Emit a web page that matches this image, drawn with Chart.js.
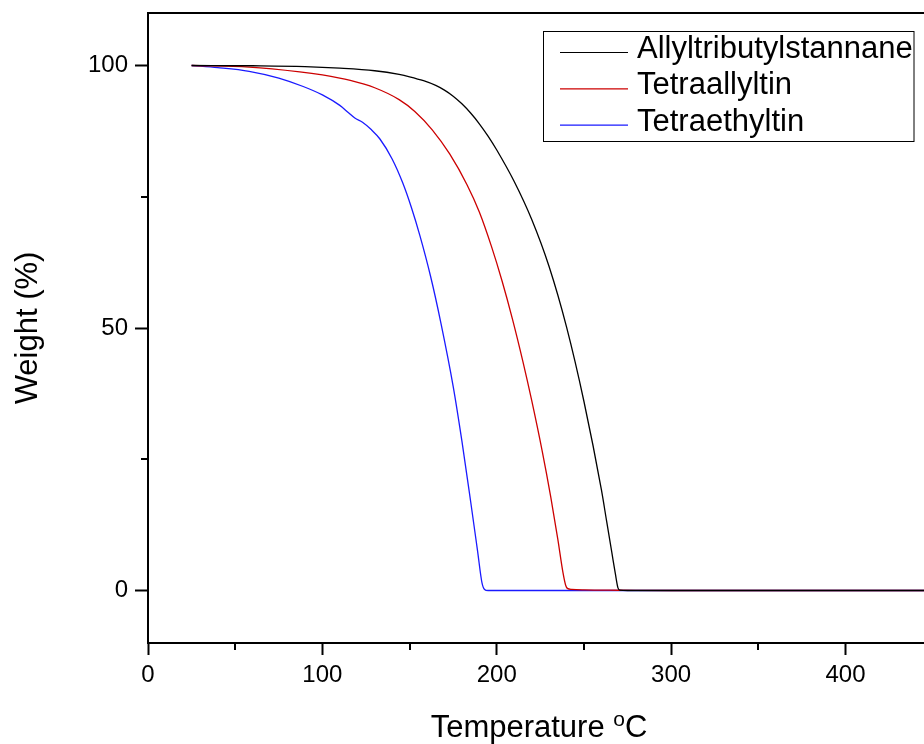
<!DOCTYPE html>
<html>
<head>
<meta charset="utf-8">
<script src="https://cdn.jsdelivr.net/npm/chart.js@4.4.1/dist/chart.umd.min.js"></script>
<style>
  html, body { margin: 0; padding: 0; background: #fff; }
</style>
</head>
<body>
<canvas id="tgaChart" width="924" height="744"></canvas>
<script>
const seriesNames = ["Allyltributylstannane", "Tetraallyltin", "Tetraethyltin"];
const seriesColors = ["#000000", "#cc0000", "#1a1aff"];

// Allyltributylstannane
const allylTemp = [25, 60, 90, 110, 130, 144, 150, 158, 165, 170, 175, 180, 185, 190, 195, 200, 210, 220, 230, 240, 250, 260, 263, 266, 268, 269.5, 270.5, 275, 450];
const allylWeight = [100, 99.95, 99.8, 99.5, 99, 98.3, 97.85, 97.1, 96.2, 95.3, 94.15, 92.7, 90.95, 88.9, 86.55, 83.9, 77.9, 70.7, 61.7, 50.2, 36, 19.2, 13.2, 7.2, 3.2, 0.5, 0.08, 0, 0];

// Tetraallyltin
const tetraallylTemp = [25, 58, 87, 100, 116, 130, 144, 153, 163, 173, 183, 190, 197, 203, 209, 215, 220, 226, 231, 235, 238, 239.5, 240.5, 243, 250, 270, 300, 450];
const tetraallylWeight = [100, 99.7, 98.8, 98.2, 97.16, 95.76, 93.5, 91.25, 87.75, 83.15, 77.25, 72.1, 65.5, 59, 51.7, 43.6, 36.25, 26.65, 17.75, 9.8, 3.35, 1, 0.4, 0.2, 0.1, 0.05, 0, 0];

// Tetraethyltin
const tetraethylTemp = [25, 40, 58, 75, 89, 100, 110, 115, 118.6, 123, 128, 133, 140, 146, 151, 156, 162, 168, 175, 180, 185, 189, 191.5, 193, 195, 300, 450];
const tetraethylWeight = [100, 99.6, 98.9, 97.6, 96, 94.4, 92.4, 91, 90, 89.2, 87.8, 86, 82.2, 77.7, 73, 67.5, 59.9, 50.9, 38.9, 28.5, 17, 7.5, 1.5, 0.2, 0, 0, 0];

const xTicks = [0, 50, 100, 150, 200, 250, 300, 350, 400];
const yTicks = [0, 25, 50, 75, 100];

const fontFamily = '"Liberation Sans", Arial, sans-serif';
Chart.defaults.font.family = fontFamily;
Chart.defaults.color = "#000";

function toPoints(xs, ys) {
  return xs.map((x, i) => ({ x: x, y: ys[i] }));
}

const isMajorX = (v) => v % 100 === 0;
const isMajorY = (v) => v % 50 === 0;

// short minor ticks, x title with superscript o, boxed legend
const extras = {
  id: "extras",
  afterDraw(chart) {
    const { ctx, chartArea } = chart;
    const xs = chart.scales.x;
    const ys = chart.scales.y;
    ctx.save();
    ctx.strokeStyle = "#000";
    ctx.lineWidth = 2;
    ctx.beginPath();
    xTicks.filter((v) => !isMajorX(v)).forEach((v) => {
      const px = Math.round(xs.getPixelForValue(v));
      ctx.moveTo(px, chartArea.bottom);
      ctx.lineTo(px, chartArea.bottom + 7);
    });
    yTicks.filter((v) => !isMajorY(v)).forEach((v) => {
      const py = Math.round(ys.getPixelForValue(v));
      ctx.moveTo(chartArea.left, py);
      ctx.lineTo(chartArea.left - 7, py);
    });
    ctx.stroke();

    // x axis title
    const big = "31px " + fontFamily;
    const small = "21px " + fontFamily;
    ctx.fillStyle = "#000";
    ctx.textBaseline = "alphabetic";
    ctx.font = big;
    const w1 = ctx.measureText("Temperature ").width;
    const w3 = ctx.measureText("C").width;
    ctx.font = small;
    const w2 = ctx.measureText("o").width;
    const tx = (chartArea.left + chartArea.right) / 2 + 3 - (w1 + w2 + w3) / 2;
    const base = 737;
    ctx.font = big;
    ctx.fillText("Temperature ", tx, base);
    ctx.font = small;
    ctx.fillText("o", tx + w1, base - 11);
    ctx.font = big;
    ctx.fillText("C", tx + w1 + w2, base);

    // legend
    ctx.fillStyle = "#fff";
    ctx.fillRect(543.5, 31.5, 370.5, 110);
    ctx.strokeStyle = "#000";
    ctx.lineWidth = 1;
    ctx.strokeRect(543.5, 31.5, 370.5, 110);
    ctx.font = "31px " + fontFamily;
    ctx.textBaseline = "middle";
    chart.data.datasets.forEach((ds, i) => {
      const y = 52.5 + i * 36.3;
      ctx.strokeStyle = ds.borderColor;
      ctx.lineWidth = 1.2;
      ctx.beginPath();
      ctx.moveTo(560, y);
      ctx.lineTo(628, y);
      ctx.stroke();
      ctx.fillStyle = "#000";
      ctx.fillText(ds.label, 637, y - 3);
    });
    ctx.restore();
  },
};

new Chart(document.getElementById("tgaChart"), {
  type: "line",
  data: {
    datasets: [
      {
        label: seriesNames[0],
        data: toPoints(allylTemp, allylWeight),
        borderColor: seriesColors[0],
      },
      {
        label: seriesNames[1],
        data: toPoints(tetraallylTemp, tetraallylWeight),
        borderColor: seriesColors[1],
      },
      {
        label: seriesNames[2],
        data: toPoints(tetraethylTemp, tetraethylWeight),
        borderColor: seriesColors[2],
      },
    ],
  },
  options: {
    responsive: false,
    animation: false,
    devicePixelRatio: 1,
    layout: { padding: { top: 13, left: 0, right: 0, bottom: 0 } },
    elements: {
      line: { borderWidth: 1.3, cubicInterpolationMode: "monotone", fill: false },
      point: { radius: 0 },
    },
    plugins: {
      legend: { display: false },
      tooltip: { enabled: false },
    },
    scales: {
      x: {
        type: "linear",
        position: "bottom",
        min: 0,
        max: 445,
        afterBuildTicks: (s) => { s.ticks = xTicks.map((v) => ({ value: v })); },
        afterFit: (s) => { s.height = 101; s.paddingLeft = 0; s.paddingRight = 0; },
        ticks: {
          autoSkip: false,
          maxRotation: 0,
          padding: 6,
          font: { size: 24 },
          color: "#000",
          callback: (v) => (isMajorX(v) ? v : ""),
        },
        grid: {
          drawOnChartArea: false,
          tickLength: 12,
          tickWidth: 2,
          tickColor: (c) => (c.tick && isMajorX(c.tick.value) ? "#000" : "rgba(0,0,0,0)"),
        },
        border: { color: "#000", width: 2 },
        title: { display: false },
      },
      xTop: {
        type: "linear",
        position: "top",
        min: 0,
        max: 445,
        afterFit: (s) => { s.height = 0; },
        ticks: { display: false },
        grid: { drawOnChartArea: false, drawTicks: false },
        border: { color: "#000", width: 2 },
      },
      y: {
        type: "linear",
        position: "left",
        min: -10,
        max: 110,
        afterBuildTicks: (s) => { s.ticks = yTicks.map((v) => ({ value: v })); },
        afterFit: (s) => { s.width = 148; s.paddingTop = 0; s.paddingBottom = 0; },
        ticks: {
          padding: 7,
          font: { size: 24 },
          color: "#000",
          callback: (v) => (isMajorY(v) ? v : ""),
        },
        grid: {
          drawOnChartArea: false,
          tickLength: 13,
          tickWidth: 2,
          tickColor: (c) => (c.tick && isMajorY(c.tick.value) ? "#000" : "rgba(0,0,0,0)"),
        },
        border: { color: "#000", width: 2 },
        title: {
          display: true,
          text: "Weight (%)",
          font: { size: 31 },
          color: "#000",
          padding: { top: 10, bottom: 0 },
        },
      },
    },
  },
  plugins: [extras],
});
</script>
</body>
</html>
